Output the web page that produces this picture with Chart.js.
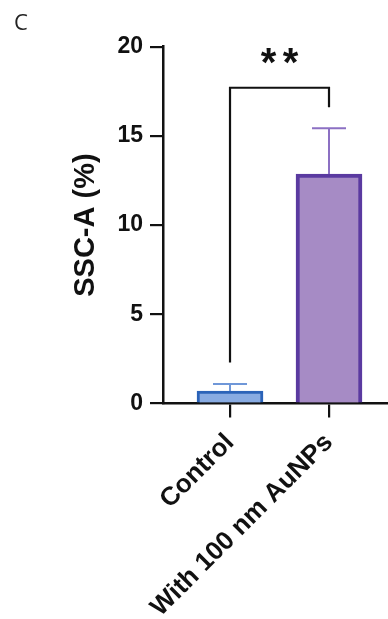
<!DOCTYPE html>
<html>
<head>
<meta charset="utf-8">
<script src="https://cdn.jsdelivr.net/npm/chart.js@4.4.1/dist/chart.umd.min.js"></script>
<style>
  html, body { margin: 0; padding: 0; background: #fff; }
  #wrap { width: 388px; height: 619px; }
</style>
</head>
<body>
<div id="wrap"><canvas id="myChart"></canvas></div>
<script>
const categories = ['Control', 'With 100 nm AuNPs'];
const means = [0.7, 12.86];
const sds = [0.39, 2.57];
const yTicks = [0, 5, 10, 15, 20];
const sigLabel = '**';
const sigBracket = { from: 0, to: 1, top: 17.7, leftEnd: 2.3, rightEnd: 16.6, label: 18.95 };

const fillColors = ['#88abe2', '#a68bc5'];
const edgeColors = ['#2b63b8', '#5a3aa0'];
const errColors = ['#6f97d8', '#8c70c3'];

// error bars + significance bracket drawn through the scales
const extras = {
  id: 'extras',
  afterDatasetsDraw(chart) {
    const ctx = chart.ctx;
    const x = chart.scales.x, y = chart.scales.y;
    ctx.save();
    means.forEach(function (m, i) {
      const px = x.getPixelForValue(i);
      const top = y.getPixelForValue(m + sds[i]);
      ctx.strokeStyle = errColors[i];
      ctx.lineWidth = 2;
      ctx.beginPath();
      ctx.moveTo(px, y.getPixelForValue(m));
      ctx.lineTo(px, top);
      ctx.moveTo(px - 17, top);
      ctx.lineTo(px + 17, top);
      ctx.stroke();
    });
    const x1 = x.getPixelForValue(sigBracket.from);
    const x2 = x.getPixelForValue(sigBracket.to);
    const yt = y.getPixelForValue(sigBracket.top);
    ctx.strokeStyle = '#111';
    ctx.lineWidth = 2.2;
    ctx.beginPath();
    ctx.moveTo(x1, y.getPixelForValue(sigBracket.leftEnd));
    ctx.lineTo(x1, yt);
    ctx.lineTo(x2, yt);
    ctx.lineTo(x2, y.getPixelForValue(sigBracket.rightEnd));
    ctx.stroke();
    ctx.fillStyle = '#111';
    ctx.font = 'bold 40px "Liberation Sans", Arial, sans-serif';
    ctx.textAlign = 'center';
    ctx.textBaseline = 'middle';
    const mid = (x1 + x2) / 2;
    const ys = y.getPixelForValue(sigBracket.label);
    for (let k = 0; k < sigLabel.length; k++) {
      ctx.fillText(sigLabel[k], mid + (k - (sigLabel.length - 1) / 2) * 22, ys);
    }
    ctx.restore();
  }
};

const ctx = document.getElementById('myChart');

var myChart = new Chart(ctx, {
  type: 'bar',
  data: {
    datasets: [{
      data: categories.map(function (c, i) { return { x: i, y: means[i] }; }),
      backgroundColor: fillColors,
      borderColor: edgeColors,
      borderWidth: [3, 4],
      borderSkipped: 'bottom',
      barThickness: 66
    }]
  },
  options: {
    responsive: true,
    maintainAspectRatio: false,
    animation: false,
    layout: { padding: { left: 14, right: 0, top: 0, bottom: 0 } },
    plugins: {
      legend: { display: false },
      tooltip: { enabled: false },
      title: {
        display: true,
        text: 'C',
        align: 'start',
        color: '#222',
        font: { family: '"Open Sans", sans-serif', size: 22, weight: 'normal' },
        padding: { top: 11, bottom: 9.3 }
      }
    },
    scales: {
      x: {
        type: 'linear',
        offset: false,
        min: -0.677,
        max: 1.596,
        afterBuildTicks: function (axis) {
          axis.ticks = categories.map(function (c, i) { return { value: i }; });
        },
        afterFit: function (axis) { axis.height = 215.5; },
        grid: { display: true, offset: false, drawOnChartArea: false, drawTicks: true, tickLength: 14, color: '#111', lineWidth: 2.2 },
        border: { display: true, color: '#111', width: 2.5 },
        ticks: {
          autoSkip: false,
          minRotation: 45,
          maxRotation: 45,
          padding: 10,
          color: '#111',
          font: { family: '"Liberation Sans", Arial, sans-serif', size: 26, weight: 'bold' },
          callback: function (v) { return categories[v]; }
        }
      },
      y: {
        min: 0,
        max: 20,
        afterBuildTicks: function (axis) {
          axis.ticks = yTicks.map(function (v) { return { value: v }; });
        },
        afterFit: function (axis) { axis.width = 149; },
        grid: { display: true, drawOnChartArea: false, drawTicks: true, tickLength: 13, color: '#111', lineWidth: 2.2 },
        border: { display: true, color: '#111', width: 2.5 },
        ticks: {
          padding: 7,
          color: '#111',
          font: { family: '"Liberation Sans", Arial, sans-serif', size: 23, weight: 'bold' }
        },
        title: {
          display: true,
          text: 'SSC-A (%)',
          color: '#111',
          padding: { top: 55, bottom: 0 },
          font: { family: '"Liberation Sans", Arial, sans-serif', size: 29, weight: 'bold' }
        }
      }
    }
  },
  plugins: [extras]
});
</script>
</body>
</html>
